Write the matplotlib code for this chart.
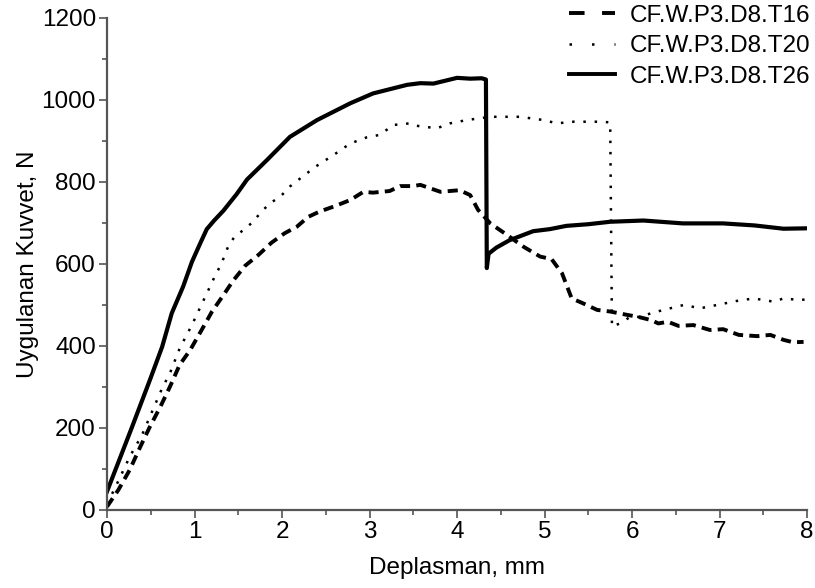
import matplotlib.pyplot as plt
from matplotlib.lines import Line2D

plt.rcParams['font.family'] = ['Liberation Sans', 'DejaVu Sans']

# CF.W.P3.D8.T16 (kesikli)
t16_x = [0, 0.13, 0.26, 0.38, 0.49, 0.61, 0.72, 0.83, 0.95, 1.06, 1.2, 1.33, 1.44, 1.58,
         1.73, 1.88, 2.03, 2.17, 2.3, 2.43, 2.59, 2.78, 2.93, 3.04, 3.23, 3.35, 3.5, 3.58,
         3.81, 4.03, 4.15, 4.24, 4.38, 4.57, 4.76, 4.95, 5.08, 5.2, 5.31, 5.44, 5.6, 5.75,
         5.94, 6.07, 6.22, 6.3, 6.41, 6.53, 6.7, 6.89, 7.04, 7.22, 7.43, 7.58, 7.73, 7.84, 7.96]
t16_y = [8, 49, 98, 154, 203, 252, 301, 354, 390, 431, 484, 524, 559, 596,
         622, 652, 675, 691, 715, 728, 740, 756, 776, 774, 778, 790, 790, 793,
         776, 780, 768, 732, 699, 671, 642, 618, 612, 577, 516, 504, 488, 484,
         476, 471, 463, 455, 459, 449, 451, 439, 441, 427, 424, 427, 415, 409, 410]

# CF.W.P3.D8.T20 (noktali)
t20_x = [0, 0.09, 0.26, 0.4, 0.63, 0.72, 0.83, 0.97, 1.06, 1.14, 1.23, 1.31, 1.39, 1.46,
         1.56, 1.67, 1.75, 1.86, 1.98, 2.09, 2.21, 2.38, 2.59, 2.78, 2.97, 3.12, 3.27,
         3.46, 3.54, 3.77, 3.92, 4.11, 4.38, 4.57, 4.72, 4.99, 5.14, 5.33, 5.67, 5.75,
         5.77, 5.86, 5.98, 6.09, 6.22, 6.36, 6.59, 6.78, 6.97, 7.2, 7.39, 7.62, 7.73, 7.92, 8.0]
t20_y = [15, 53, 130, 183, 297, 334, 394, 451, 492, 528, 569, 602, 646, 667,
         683, 703, 724, 748, 764, 789, 809, 837, 866, 894, 909, 915, 939,
         943, 937, 931, 943, 951, 959, 959, 959, 951, 943, 947, 947, 945,
         447, 455, 471, 471, 480, 488, 500, 492, 500, 510, 516, 508, 516, 512, 514]

# CF.W.P3.D8.T26 (duz)
t26_x = [0, 0.14, 0.28, 0.49, 0.63, 0.74, 0.87, 0.97, 1.06, 1.14, 1.22, 1.33, 1.48, 1.6, 1.83,
         2.09, 2.4, 2.78, 3.04, 3.43, 3.58, 3.73, 4.0, 4.15, 4.28, 4.33, 4.34, 4.36,
         4.45, 4.6, 4.87, 5.06, 5.25, 5.5, 5.75, 6.13, 6.58, 7.04, 7.4, 7.73, 8.0]
t26_y = [45, 122, 199, 317, 398, 480, 545, 605, 648, 685, 705, 730, 770, 806, 854,
         910, 951, 992, 1016, 1037, 1041, 1040, 1054, 1052, 1053, 1050, 590, 625,
         640, 658, 680, 685, 693, 697, 703, 706, 699, 699, 694, 686, 687]

etiketler = ['CF.W.P3.D8.T16', 'CF.W.P3.D8.T20', 'CF.W.P3.D8.T26']

fig = plt.figure(figsize=(8.15, 5.88), dpi=100)
ax = fig.add_axes([0.1313, 0.1327, 0.8590, 0.8367])

ax.plot(t16_x, t16_y, color='black', lw=2.8, linestyle=(0, (2.6, 1.6)))
ax.plot(t20_x, t20_y, color='black', lw=1.8, linestyle=(0, (1, 3.5)))
ax.plot(t26_x, t26_y, color='black', lw=3.0, solid_joinstyle='round')

ax.set_xlim(0, 8)
ax.set_ylim(0, 1200)
ax.set_xticks(range(0, 9))
ax.set_yticks(range(0, 1201, 200))
ax.set_xticks([i + 0.5 for i in range(8)], minor=True)
ax.set_yticks(range(100, 1200, 200), minor=True)

for s in ['top', 'right']:
    ax.spines[s].set_visible(False)
for s in ['left', 'bottom']:
    ax.spines[s].set_color('#555555')
    ax.spines[s].set_linewidth(1.6)

ax.tick_params(which='major', direction='out', length=6, width=1.2, color='#555555',
               labelsize=17.5, pad=2)
ax.tick_params(which='minor', direction='out', length=3.5, width=1.2, color='#555555')

ax.set_xlabel('Deplasman, mm', fontsize=17.5, labelpad=10)
ax.set_ylabel('Uygulanan Kuvvet, N', fontsize=17.5, labelpad=2)

tutamaclar = [
    Line2D([], [], color='black', lw=2.8, linestyle=(0, (4, 4.5))),
    Line2D([], [], color='black', lw=1.8, linestyle=(0, (1, 8))),
    Line2D([], [], color='black', lw=2.8),
]
fig.legend(tutamaclar, etiketler, loc='upper right', bbox_to_anchor=(1.012, 1.017),
           frameon=False, fontsize=17.5, handlelength=1.9, handletextpad=0.6,
           labelspacing=0.35, borderaxespad=0.2)

fig.savefig('out.png', dpi=100)
